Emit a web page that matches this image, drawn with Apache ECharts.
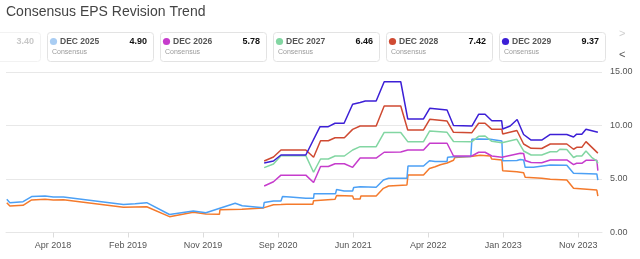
<!DOCTYPE html>
<html>
<head>
<meta charset="utf-8">
<script src="https://cdn.jsdelivr.net/npm/echarts@6/dist/echarts.min.js"></script>
<style>
  html, body { margin: 0; padding: 0; background: #fff; }
  #box { width: 640px; height: 259px; }
</style>
</head>
<body>
<div id="box"></div>
<script>
// 各年度一致预期 EPS（日期, 数值）
var dec2024 = [['2017-10-24',2.79],['2017-11-05',2.48],['2017-12-26',2.54],['2018-01-28',3.04],['2018-03-21',3.10],['2018-04-22',3.04],['2018-05-31',3.07],['2019-01-18',2.36],['2019-04-18',2.41],['2019-07-15',1.48],['2019-10-15',1.89],['2019-12-03',1.73],['2020-01-24',1.70],['2020-01-26',2.12],['2020-04-20',2.17],['2020-07-12',2.30],['2020-07-18',2.48],['2020-08-20',2.60],['2020-09-18',2.62],['2020-09-24',2.73],['2020-10-10',2.64],['2021-01-19',2.64],['2021-01-22',2.97],['2021-04-15',3.10],['2021-04-21',3.45],['2021-06-22',3.40],['2021-06-26',3.13],['2021-07-21',3.13],['2021-07-24',3.42],['2021-09-21',3.42],['2021-10-19',4.13],['2021-11-08',4.35],['2022-01-18',4.44],['2022-01-22',5.37],['2022-03-23',5.37],['2022-04-15',5.98],['2022-05-07',6.14],['2022-05-27',6.33],['2022-06-22',6.50],['2022-07-17',6.75],['2022-07-22',7.00],['2022-09-22',7.10],['2022-10-28',7.22],['2022-12-06',7.15],['2022-12-12',6.86],['2023-01-20',6.78],['2023-01-23',5.78],['2023-03-19',5.68],['2023-04-14',5.59],['2023-04-20',5.16],['2023-06-23',5.07],['2023-07-26',4.97],['2023-09-28',4.91],['2023-10-24',4.13],['2024-01-22',3.97],['2024-01-26',3.40]];
var dec2025 = [['2017-10-24',3.10],['2017-11-05',2.79],['2017-12-26',2.88],['2018-01-28',3.36],['2018-03-21',3.41],['2018-04-22',3.32],['2018-05-31',3.32],['2019-01-18',2.62],['2019-03-04',2.69],['2019-04-18',2.79],['2019-07-15',1.68],['2019-10-15',2.01],['2019-12-03',1.85],['2020-03-25',2.73],['2020-04-21',2.50],['2020-07-12',2.31],['2020-07-15',2.80],['2020-08-20',2.94],['2020-09-18',2.94],['2020-09-24',3.36],['2020-10-23',3.32],['2020-12-23',3.20],['2021-01-22',3.20],['2021-01-24',3.63],['2021-04-17',3.63],['2021-04-21',4.02],['2021-05-20',3.88],['2021-06-22',3.88],['2021-06-26',4.21],['2021-07-21',4.28],['2021-09-21',4.22],['2021-10-19',4.91],['2021-11-08',5.07],['2022-01-18',5.07],['2022-01-22',6.21],['2022-03-23',6.21],['2022-04-15',6.71],['2022-05-07',6.64],['2022-06-22',6.64],['2022-06-24',7.03],['2022-07-17',7.08],['2022-09-22',7.10],['2022-09-26',8.71],['2022-10-28',8.74],['2022-12-06',8.71],['2022-12-12',8.55],['2023-01-20',8.55],['2023-01-23',6.71],['2023-03-19',6.73],['2023-04-01',6.82],['2023-04-14',6.78],['2023-04-20',6.09],['2023-05-22',6.09],['2023-07-26',6.31],['2023-09-28',6.28],['2023-10-24',5.53],['2024-01-22',5.47],['2024-01-26',4.90]];
var dec2026 = [['2020-07-15',4.35],['2020-08-20',4.74],['2020-09-18',5.36],['2020-12-23',5.36],['2021-01-22',4.67],['2021-02-18',6.17],['2021-03-20',6.17],['2021-04-15',6.43],['2021-05-21',6.43],['2021-06-22',6.09],['2021-07-21',6.96],['2021-09-21',6.96],['2021-10-22',7.50],['2021-12-25',7.52],['2022-01-21',7.71],['2022-03-23',7.71],['2022-04-16',8.34],['2022-06-22',8.34],['2022-07-17',7.15],['2022-09-26',7.15],['2022-10-22',7.50],['2022-11-16',7.50],['2022-12-12',7.15],['2023-01-20',7.03],['2023-04-01',7.40],['2023-04-14',7.38],['2023-04-20',6.73],['2023-05-13',6.54],['2023-06-23',6.52],['2023-07-26',6.78],['2023-09-28',6.78],['2023-10-24',6.34],['2023-11-05',6.47],['2023-11-25',6.47],['2023-12-11',6.75],['2024-01-22',6.75],['2024-01-26',5.78]];
var dec2027 = [['2020-07-15',6.06],['2020-08-20',6.40],['2020-09-18',7.18],['2020-12-23',7.18],['2021-01-22',5.63],['2021-02-18',6.87],['2021-03-20',6.87],['2021-04-15',7.15],['2021-05-21',7.15],['2021-06-22',7.71],['2021-07-21',8.02],['2021-09-21',8.02],['2021-10-22',9.35],['2021-12-25',9.35],['2022-01-21',8.49],['2022-03-23',8.49],['2022-04-16',9.49],['2022-06-22',9.36],['2022-07-17',8.50],['2022-09-26',8.49],['2022-10-22',8.99],['2022-11-16',9.02],['2022-12-12',8.52],['2023-01-20',8.39],['2023-03-19',8.71],['2023-04-14',7.62],['2023-05-13',7.24],['2023-06-23',7.24],['2023-07-26',7.55],['2023-08-21',7.55],['2023-09-01',7.78],['2023-09-28',7.76],['2023-10-24',7.01],['2023-11-05',7.15],['2023-11-25',7.15],['2023-12-11',7.62],['2024-01-02',7.03],['2024-01-22',6.68],['2024-01-26',6.46]];
var dec2028 = [['2020-07-15',6.68],['2020-08-20',7.06],['2020-09-18',7.71],['2020-12-23',7.71],['2021-01-22',7.03],['2021-02-18',8.58],['2021-03-20',8.58],['2021-04-15',8.86],['2021-05-21',8.86],['2021-06-22',9.64],['2021-07-21',9.95],['2021-09-21',9.95],['2021-10-22',11.82],['2021-12-25',11.82],['2022-01-21',9.58],['2022-03-23',9.58],['2022-04-16',10.58],['2022-06-22',10.42],['2022-07-17',9.36],['2022-09-26',9.33],['2022-10-22',10.21],['2022-11-16',10.21],['2022-12-12',9.64],['2023-01-20',9.64],['2023-01-23',9.21],['2023-03-19',9.53],['2023-04-14',8.27],['2023-05-13',7.87],['2023-06-23',7.85],['2023-07-26',8.27],['2023-09-28',8.27],['2023-10-24',7.78],['2023-11-05',7.96],['2023-11-25',7.96],['2023-12-11',8.49],['2024-01-26',7.42]];
var dec2029 = [['2020-07-15',6.50],['2020-08-20',6.68],['2020-09-18',7.24],['2020-12-23',7.24],['2021-02-16',9.89],['2021-03-20',9.89],['2021-04-15',10.21],['2021-05-20',10.21],['2021-06-22',11.98],['2021-07-21',12.15],['2021-08-10',12.29],['2021-09-21',12.29],['2021-10-22',14.09],['2021-12-25',14.09],['2022-01-21',10.61],['2022-03-23',10.61],['2022-04-16',11.61],['2022-06-22',11.45],['2022-07-17',10.00],['2022-09-26',9.95],['2022-10-22',11.05],['2022-11-16',11.05],['2022-12-12',10.45],['2023-01-19',10.45],['2023-01-23',9.67],['2023-02-21',9.95],['2023-03-20',10.56],['2023-04-14',9.16],['2023-05-13',8.64],['2023-06-23',8.64],['2023-07-26',9.16],['2023-09-28',9.16],['2023-10-24',8.93],['2023-11-05',9.19],['2023-11-25',9.19],['2023-12-11',9.64],['2024-01-26',9.37]];

var seriesNames = ['DEC 2024', 'DEC 2025', 'DEC 2026', 'DEC 2027', 'DEC 2028', 'DEC 2029'];
var seriesData = [dec2024, dec2025, dec2026, dec2027, dec2028, dec2029];
var lineColors = ['#f47a2c', '#4ca0f5', '#c63ccc', '#82d6a2', '#cf4a32', '#3c1fd6'];
var dotColors = ['#f47a2c', '#a9cdf3', '#c63ccc', '#82d6a2', '#cf4a32', '#3c1fd6'];

// x 轴刻度
var xTickDates = ['2018-04-21', '2019-02-05', '2019-11-22', '2020-09-07', '2021-06-24', '2022-04-10', '2023-01-25', '2023-11-11'];
var xTickLabels = ['Apr 2018', 'Feb 2019', 'Nov 2019', 'Sep 2020', 'Jun 2021', 'Apr 2022', 'Jan 2023', 'Nov 2023'];
var yTicks = [0, 5, 10, 15];

var FONT = '"Liberation Sans", Arial, sans-serif';

function ts(s) {
  var p = s.split('-');
  return new Date(+p[0], +p[1] - 1, +p[2]).getTime();
}
var tickStamps = xTickDates.map(ts);

// 顶部卡片
var graphics = [];
for (var i = 0; i < seriesNames.length; i++) {
  var cx = -66 + i * 113;
  var last = seriesData[i][seriesData[i].length - 1][1];
  var faded = i === 0;
  graphics.push({
    type: 'group',
    x: cx, y: 32,
    children: [
      { type: 'rect', shape: { x: 0.5, y: 0.5, width: 106, height: 29, r: 3 },
        style: { fill: '#fff', stroke: faded ? '#f2f2f2' : '#e3e3e3', lineWidth: 1 } },
      { type: 'circle', shape: { cx: 6.5, cy: 9.5, r: 3.6 }, style: { fill: dotColors[i], opacity: faded ? 0.3 : 1 } },
      { type: 'text', x: 13, y: 9.5,
        style: { text: seriesNames[i], fill: faded ? '#ddd' : '#555', font: 'bold 8.5px ' + FONT,
                 textAlign: 'left', textVerticalAlign: 'middle' } },
      { type: 'text', x: 100, y: 9.5,
        style: { text: last.toFixed(2), fill: faded ? '#c8c8c8' : '#111', font: 'bold 9px ' + FONT,
                 textAlign: 'right', textVerticalAlign: 'middle' } },
      { type: 'text', x: 5, y: 20,
        style: { text: 'Consensus', fill: faded ? '#e6e6e6' : '#9a9a9a', font: '7px ' + FONT,
                 textAlign: 'left', textVerticalAlign: 'middle' } }
    ]
  });
}
graphics.push({ type: 'text', x: 619, y: 34, style: { text: '>', fill: '#cfcfcf', font: '11px ' + FONT, textVerticalAlign: 'middle' } });
graphics.push({ type: 'text', x: 619, y: 55, style: { text: '<', fill: '#555', font: '11px ' + FONT, textVerticalAlign: 'middle' } });

var myChart = echarts.init(document.getElementById('box'));

var series = seriesData.map(function (d, i) {
  return {
    name: seriesNames[i],
    type: 'line',
    data: d.map(function (p) { return [ts(p[0]), p[1]]; }),
    showSymbol: false,
    symbol: 'none',
    z: 2 + i,
    lineStyle: { color: lineColors[i], width: 1.5 },
    itemStyle: { color: lineColors[i] }
  };
});

var option = {
  animation: false,
  title: {
    text: 'Consensus EPS Revision Trend',
    left: 6, top: 5, padding: 0,
    textStyle: { fontFamily: FONT, fontSize: 14, fontWeight: 'normal', color: '#444' }
  },
  grid: { left: 6, right: 38, top: 72, bottom: 26.5, containLabel: false, outerBoundsMode: 'none' },
  graphic: graphics,
  xAxis: {
    type: 'value',
    min: ts('2017-10-21'),
    max: ts('2024-02-11'),
    axisLine: { show: true, lineStyle: { color: '#e6e6e6' } },
    axisTick: { show: true, length: 5, lineStyle: { color: '#dcdcdc' }, customValues: tickStamps },
    splitLine: { show: false },
    axisLabel: {
      customValues: tickStamps,
      margin: 9,
      color: '#555',
      fontSize: 9,
      fontFamily: FONT,
      formatter: function (v) {
        var k = tickStamps.indexOf(v);
        return k >= 0 ? xTickLabels[k] : '';
      }
    }
  },
  yAxis: {
    type: 'value',
    position: 'right',
    min: yTicks[0],
    max: yTicks[yTicks.length - 1],
    interval: 5,
    axisLine: { show: false },
    axisTick: { show: false },
    splitLine: { lineStyle: { color: '#e8e8e8', width: 1 } },
    axisLabel: {
      margin: 8,
      color: '#555',
      fontSize: 9,
      fontFamily: FONT,
      formatter: function (v) { return v.toFixed(2); }
    }
  },
  series: series
};

myChart.setOption(option);
</script>
</body>
</html>
